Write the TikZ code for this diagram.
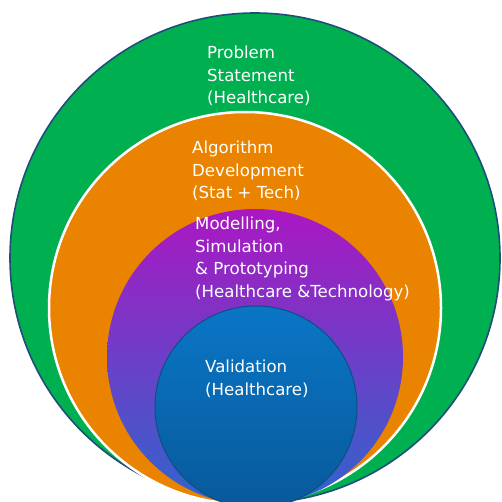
\documentclass[tikz,border=0pt]{standalone}
\usepackage{fontspec}
\setmainfont{DejaVu Sans}
\definecolor{cgreen}{HTML}{00B050}
\definecolor{cnavy}{HTML}{1F4E79}
\definecolor{corange}{HTML}{E98300}
\definecolor{cpurtop}{HTML}{AB17C2}
\definecolor{cpurbot}{HTML}{2F65CC}
\definecolor{cbluetop}{HTML}{0A76C6}
\definecolor{cbluebot}{HTML}{08599A}
\definecolor{cbluerim}{HTML}{0A4F86}
\tikzset{
  ring/.style={circle, inner sep=0pt, outer sep=0pt},
  lbl/.style={anchor=north west, align=left, text=white, inner sep=0pt,
    font=\fontsize{16.6}{22.5}\selectfont}
}
\begin{document}
\begin{tikzpicture}[x=1pt,y=-1pt]
\useasboundingbox (0,0) rectangle (501,502);
\node[ring, fill=cgreen, draw=cnavy, line width=1.6pt, minimum size=490pt] (green) at (255,258) {};
\node[ring, fill=corange, draw=white, line width=2.5pt, minimum size=392pt] (orange) at (245,308) {};
\node[ring, top color=cpurtop, bottom color=cpurbot, minimum size=296pt] (purple) at (255,357) {};
\node[ring, top color=cbluetop, bottom color=cbluebot, draw=cbluerim, line width=1pt, minimum size=202pt] (blue) at (256,407) {};
\node[lbl] (t1) at (207,46) {Problem\\Statement\\(Healthcare)};
\node[lbl] (t2) at (192,141) {Algorithm\\Development\\(Stat + Tech)};
\node[lbl] (t3) at (195,217) {Modelling,\\Simulation\\\& Prototyping\\(Healthcare \&Technology)};
\node[lbl] (t4) at (205,360) {Validation\\(Healthcare)};
\end{tikzpicture}
\end{document}
